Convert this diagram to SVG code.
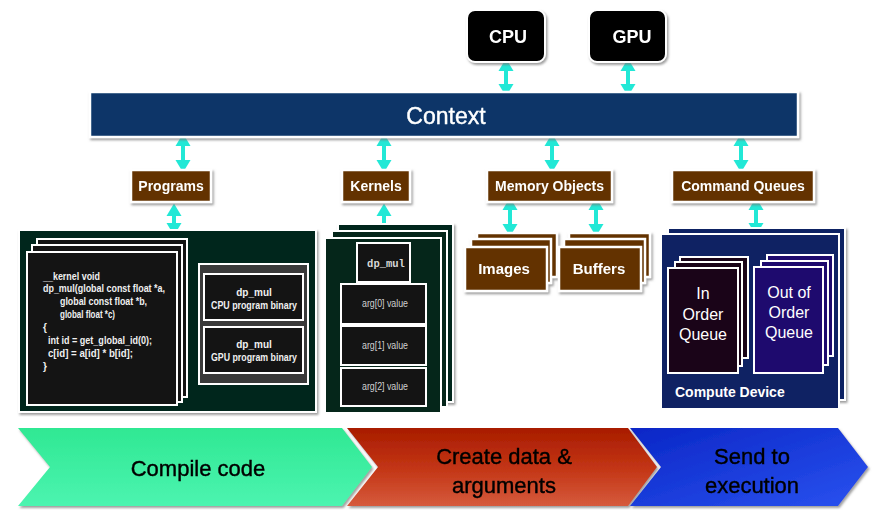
<svg xmlns="http://www.w3.org/2000/svg" width="878" height="519" viewBox="0 0 878 519">
<defs>
<style>
.lbl{font-family:"Liberation Sans",Arial,sans-serif;font-weight:bold;fill:#fff;text-anchor:middle}
.brown{fill:#633300;stroke:#fff;stroke-width:2.5}
.card{fill:#141414;stroke:#fff;stroke-width:2}
.gpanel{fill:#05261a;stroke:#fff;stroke-width:2}
.code{font-family:"Liberation Sans",Arial,sans-serif;font-weight:bold;font-size:10px;fill:#f0f0f0}
.bin{font-family:"Liberation Sans",Arial,sans-serif;font-weight:bold;font-size:10px;fill:#f0f0f0;text-anchor:middle}
.arg{font-family:"Liberation Sans",Arial,sans-serif;font-size:10px;fill:#d0d0d0;text-anchor:middle}
.q{font-family:"Liberation Sans",Arial,sans-serif;font-size:16px;fill:#fff;text-anchor:middle}
.chev{font-family:"Liberation Sans",Arial,sans-serif;font-size:22px;fill:#000;text-anchor:middle;stroke:#000;stroke-width:0.4}
.conn{stroke:#22e8d6;stroke-width:4;marker-start:url(#ah);marker-end:url(#ah)}
</style>
<marker id="ah" markerUnits="userSpaceOnUse" markerWidth="13" markerHeight="16" refX="9" refY="8" orient="auto-start-reverse" viewBox="0 0 13 16">
<path d="M0,0.5 L12.5,8 L0,15.5 Z" fill="#22e8d6"/>
</marker>
<filter id="sh" x="-10%" y="-10%" width="130%" height="130%">
<feDropShadow dx="1.5" dy="2" stdDeviation="1.2" flood-color="#777" flood-opacity="0.7"/>
</filter>
<linearGradient id="gGreen" x1="0" y1="0" x2="0" y2="1">
<stop offset="0" stop-color="#2fe893"/><stop offset="1" stop-color="#4cf4b0"/>
</linearGradient>
<linearGradient id="gRed" x1="0" y1="0" x2="0" y2="1">
<stop offset="0" stop-color="#a81c00"/><stop offset="0.5" stop-color="#c23414"/><stop offset="1" stop-color="#d65a3c"/>
</linearGradient>
<linearGradient id="gBlue" x1="0" y1="0" x2="1" y2="1">
<stop offset="0" stop-color="#0a26c6"/><stop offset="1" stop-color="#2a52f0"/>
</linearGradient>
</defs>
<rect width="878" height="519" fill="#fff"/>

<g id="connectors">
<line class="conn" x1="506" y1="62" x2="506" y2="93"/>
<line class="conn" x1="628" y1="62" x2="628" y2="93"/>
<line class="conn" x1="183" y1="137" x2="183" y2="169"/>
<line class="conn" x1="384" y1="137" x2="384" y2="169"/>
<line class="conn" x1="552" y1="137" x2="552" y2="169"/>
<line class="conn" x1="741" y1="137" x2="741" y2="169"/>
<line class="conn" x1="174" y1="207" x2="174" y2="232"/>
<line class="conn" x1="384" y1="207" x2="384" y2="234"/>
<line class="conn" x1="510" y1="201" x2="510" y2="233"/>
<line class="conn" x1="596" y1="201" x2="596" y2="233"/>
<line class="conn" x1="756" y1="201" x2="756" y2="232"/>
</g>

<g id="cpu" filter="url(#sh)">
<rect x="467" y="10" width="78" height="52" rx="8" fill="#000" stroke="#fff" stroke-width="2"/>
<text class="lbl" x="508" y="43" font-size="18">CPU</text>
</g>
<g id="gpu" filter="url(#sh)">
<rect x="589" y="10" width="77" height="52" rx="8" fill="#000" stroke="#fff" stroke-width="2"/>
<text class="lbl" x="632" y="43" font-size="18">GPU</text>
</g>

<g id="context" filter="url(#sh)">
<rect x="90" y="92" width="708" height="45" fill="#073468" stroke="#fff" stroke-width="2.5"/>
<text x="446" y="124" font-family="Liberation Sans, Arial, sans-serif" font-size="23" fill="#fff" stroke="#fff" stroke-width="0.4" text-anchor="middle">Context</text>
</g>

<g id="programs" filter="url(#sh)">
<rect class="brown" x="131" y="170" width="80" height="32"/>
<text class="lbl" x="171" y="191" font-size="14">Programs</text>
</g>
<g id="kernels" filter="url(#sh)">
<rect class="brown" x="342" y="170" width="68" height="32"/>
<text class="lbl" x="376" y="191" font-size="14">Kernels</text>
</g>
<g id="memory-objects" filter="url(#sh)">
<rect class="brown" x="487" y="170" width="125" height="32"/>
<text class="lbl" x="549.5" y="191" font-size="14">Memory Objects</text>
</g>
<g id="command-queues" filter="url(#sh)">
<rect class="brown" x="672" y="170" width="142" height="32"/>
<text class="lbl" x="743" y="191" font-size="14">Command Queues</text>
</g>

<g id="program-panel">
<rect class="gpanel" x="19" y="230" width="297" height="182" filter="url(#sh)"/>
<rect class="card" x="37" y="239" width="150" height="158"/>
<rect class="card" x="32" y="245" width="150" height="157"/>
<rect class="card" x="27" y="252" width="150" height="153"/>
<text class="code" x="43" y="280" textLength="57" lengthAdjust="spacingAndGlyphs">__kernel void</text>
<text class="code" x="43" y="292" textLength="122" lengthAdjust="spacingAndGlyphs">dp_mul(global const float *a,</text>
<text class="code" x="60" y="305" textLength="87" lengthAdjust="spacingAndGlyphs">global const float *b,</text>
<text class="code" x="60" y="318" textLength="55" lengthAdjust="spacingAndGlyphs">global float *c)</text>
<text class="code" x="43" y="331">{</text>
<text class="code" x="48" y="344" textLength="104" lengthAdjust="spacingAndGlyphs">int id = get_global_id(0);</text>
<text class="code" x="48" y="357" textLength="85" lengthAdjust="spacingAndGlyphs">c[id] = a[id] * b[id];</text>
<text class="code" x="43" y="370">}</text>
<rect x="199" y="264" width="109" height="120" fill="#3a3a3a" stroke="#fff" stroke-width="2"/>
<rect class="card" x="204" y="274" width="99" height="46"/>
<text class="bin" x="254" y="296">dp_mul</text>
<text class="bin" x="254" y="309" textLength="86" lengthAdjust="spacingAndGlyphs">CPU program binary</text>
<rect class="card" x="204" y="327" width="99" height="46"/>
<text class="bin" x="254" y="348">dp_mul</text>
<text class="bin" x="254" y="361" textLength="86" lengthAdjust="spacingAndGlyphs">GPU program binary</text>
</g>

<g id="kernel-panel">
<rect class="gpanel" x="338" y="224" width="115" height="178" filter="url(#sh)"/>
<rect class="gpanel" x="332" y="231" width="115" height="176"/>
<rect class="gpanel" x="325" y="238" width="116" height="175"/>
<rect class="card" x="357" y="243" width="53" height="39"/>
<text x="386" y="267" font-family="Liberation Mono, Courier New, monospace" font-size="10.5" font-weight="bold" fill="#d8d8d8" text-anchor="middle">dp_mul</text>
<rect class="card" x="341" y="284" width="85" height="40"/>
<text class="arg" x="385" y="307" textLength="46" lengthAdjust="spacingAndGlyphs">arg[0] value</text>
<rect class="card" x="341" y="326" width="85" height="39"/>
<text class="arg" x="385" y="349" textLength="46" lengthAdjust="spacingAndGlyphs">arg[1] value</text>
<rect class="card" x="341" y="368" width="85" height="38"/>
<text class="arg" x="385" y="390" textLength="46" lengthAdjust="spacingAndGlyphs">arg[2] value</text>
</g>

<g id="images" filter="url(#sh)">
<rect class="brown" x="477" y="233" width="80" height="44"/>
<rect class="brown" x="471" y="239" width="80" height="44"/>
<rect class="brown" x="465" y="247" width="82" height="44"/>
<text class="lbl" x="504" y="274" font-size="15">Images</text>
</g>
<g id="buffers" filter="url(#sh)">
<rect class="brown" x="569" y="233" width="81" height="44"/>
<rect class="brown" x="564" y="239" width="81" height="44"/>
<rect class="brown" x="559" y="247" width="82" height="44"/>
<text class="lbl" x="599" y="274" font-size="15">Buffers</text>
</g>

<g id="compute-device">
<rect x="668" y="228" width="177" height="172" fill="#0f2263" stroke="#fff" stroke-width="2" filter="url(#sh)"/>
<rect x="661" y="234" width="178" height="175" fill="#0f2263" stroke="#fff" stroke-width="2"/>
<text class="lbl" x="675" y="397" font-size="14" style="text-anchor:start">Compute Device</text>
</g>
<g id="in-order-queue">
<rect x="680" y="257" width="68" height="101" fill="#1a0418" stroke="#fff" stroke-width="2"/>
<rect x="675" y="262" width="67" height="104" fill="#1a0418" stroke="#fff" stroke-width="2"/>
<rect x="668" y="268" width="70" height="105" fill="#1a0418" stroke="#fff" stroke-width="2"/>
<text class="q" x="703" y="299">In</text>
<text class="q" x="703" y="320">Order</text>
<text class="q" x="703" y="340">Queue</text>
</g>
<g id="out-of-order-queue">
<rect x="767" y="255" width="66" height="101" fill="#1e0a6e" stroke="#fff" stroke-width="2"/>
<rect x="761" y="261" width="67" height="104" fill="#1e0a6e" stroke="#fff" stroke-width="2"/>
<rect x="754" y="267" width="69" height="106" fill="#1e0a6e" stroke="#fff" stroke-width="2"/>
<text class="q" x="789" y="298">Out of</text>
<text class="q" x="789" y="318">Order</text>
<text class="q" x="789" y="338">Queue</text>
</g>

<g id="step-compile" filter="url(#sh)">
<polygon points="18,428 342,428 372,467 342,506 18,506 50,467" fill="url(#gGreen)"/>
<text class="chev" x="198" y="476">Compile code</text>
</g>
<g id="step-create" filter="url(#sh)">
<polygon points="347,428 628,428 657,467 628,506 347,506 378,467" fill="url(#gRed)"/>
<text class="chev" x="504" y="464">Create data &amp;</text>
<text class="chev" x="504" y="493">arguments</text>
</g>
<g id="step-send" filter="url(#sh)">
<polygon points="630,428 838,428 868,467 838,506 630,506 661,467" fill="url(#gBlue)"/>
<text class="chev" x="752" y="464">Send to</text>
<text class="chev" x="752" y="493">execution</text>
</g>
</svg>
